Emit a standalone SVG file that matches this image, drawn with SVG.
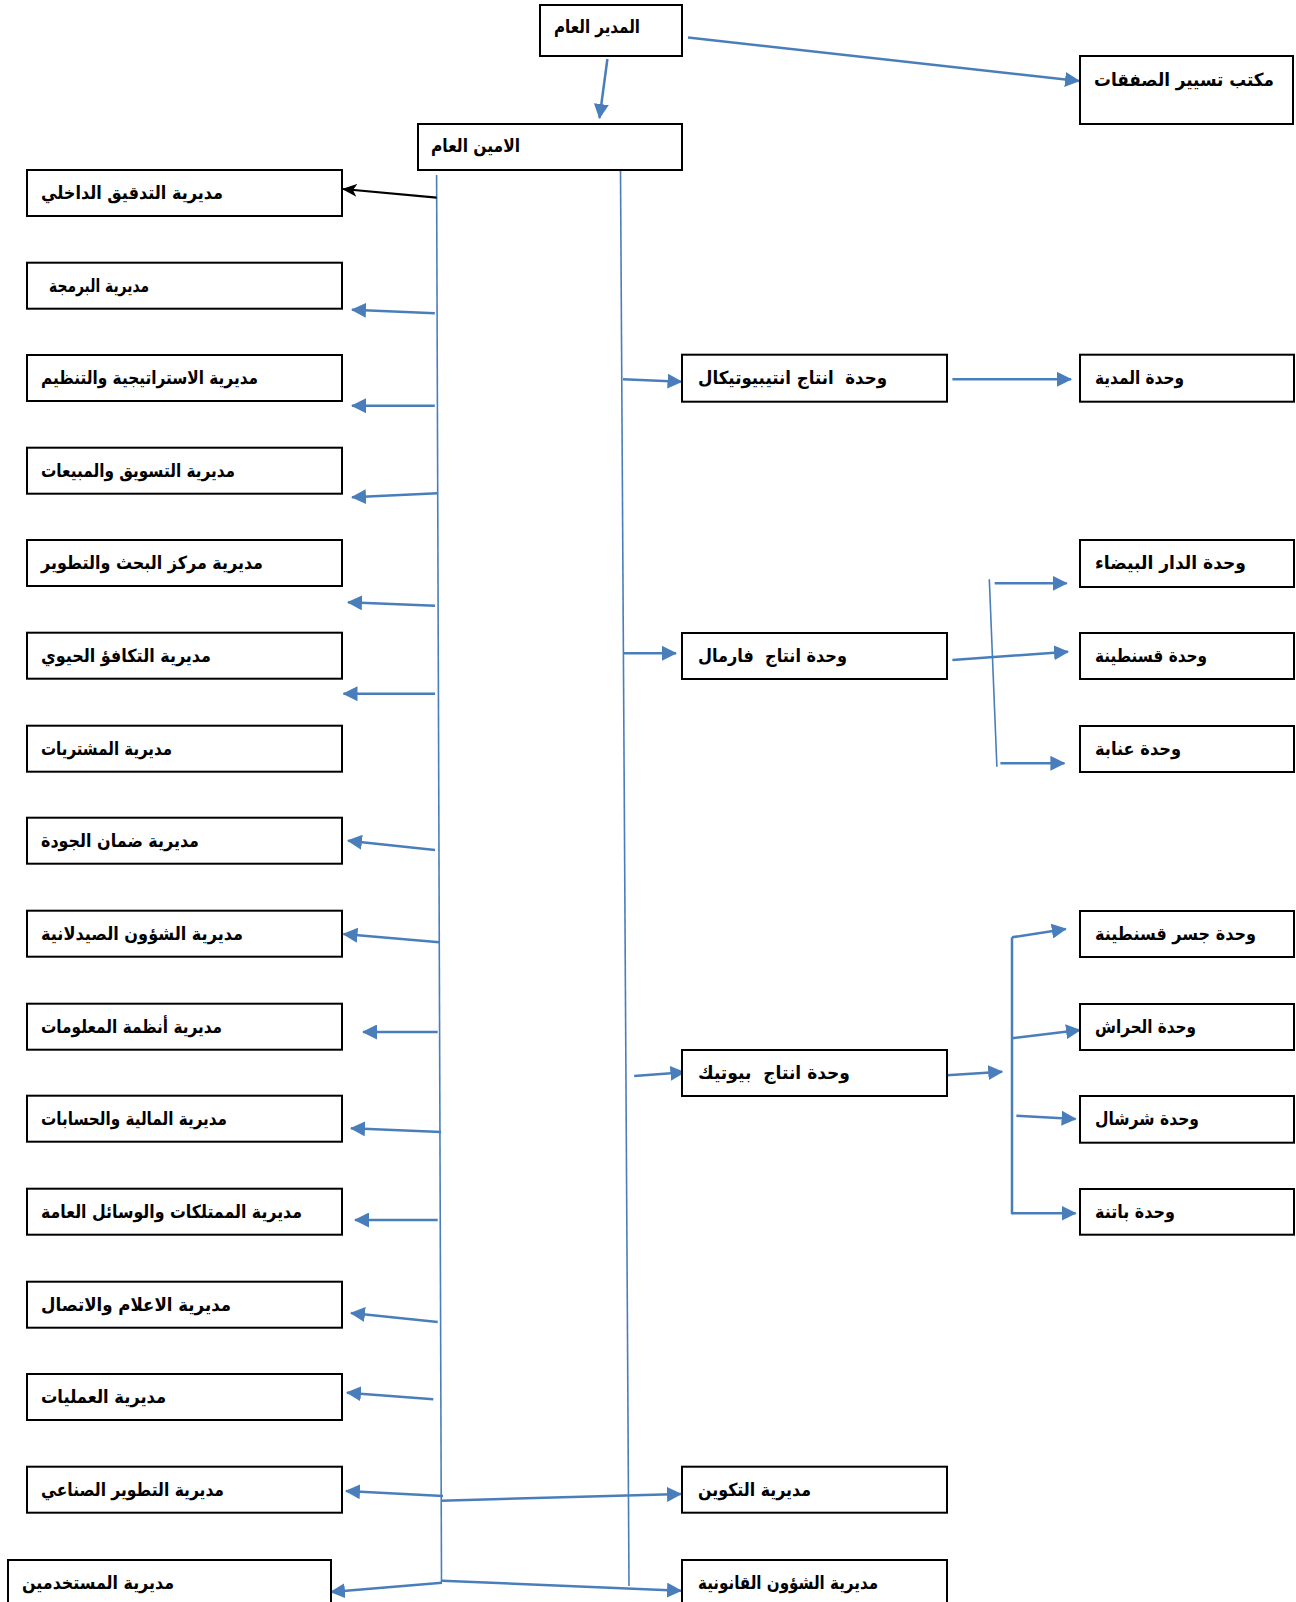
<svg xmlns="http://www.w3.org/2000/svg" width="1296" height="1602" viewBox="0 0 1296 1602">
<style>
.box{fill:#fff;stroke:#000;stroke-width:2}
.t{font-family:"DejaVu Sans",sans-serif;font-weight:bold;font-size:18px;fill:#000;white-space:pre}
.c{fill:none;stroke:#4A7EBB;stroke-width:2.5}
.trunk{fill:none;stroke:#4A7EBB;stroke-width:1.6}
.ca{fill:none;stroke:#4A7EBB;stroke-width:2.5;marker-end:url(#ab)}
.ck{fill:none;stroke:#000;stroke-width:2.2;marker-end:url(#ak)}
</style>
<defs>
<marker id="ab" viewBox="0 0 15 15" refX="14" refY="7.5" markerWidth="15" markerHeight="15" markerUnits="userSpaceOnUse" orient="auto"><path d="M0,0 L15,7.5 L0,15 z" fill="#4A7EBB"/></marker>
<marker id="ak" viewBox="0 0 15 13" refX="14" refY="6.5" markerWidth="15" markerHeight="13" markerUnits="userSpaceOnUse" orient="auto"><path d="M0,0 L15,6.5 L0,13 L4,6.5 z" fill="#000"/></marker>
</defs>
<rect width="1296" height="1602" fill="#fff"/>

<g id="connectors">
<line class="ca" x1="688" y1="37.5" x2="1079" y2="81"/>
<line class="ca" x1="607.4" y1="59" x2="599.5" y2="118"/>
<line class="trunk" x1="436.6" y1="175" x2="441.5" y2="1582"/>
<line class="trunk" x1="620.5" y1="170" x2="629" y2="1586"/>
<line class="ck" x1="436.6" y1="197.7" x2="343" y2="189"/>
<line class="ca" x1="434.8" y1="313.3" x2="352" y2="309.7"/>
<line class="ca" x1="434.8" y1="405.7" x2="352" y2="405.7"/>
<line class="ca" x1="437.5" y1="493.3" x2="352" y2="497.3"/>
<line class="ca" x1="435" y1="605.7" x2="348" y2="602.3"/>
<line class="ca" x1="435" y1="693.7" x2="343.5" y2="693.7"/>
<line class="ca" x1="435" y1="850" x2="348" y2="840.7"/>
<line class="ca" x1="439.3" y1="942.3" x2="343.5" y2="934"/>
<line class="ca" x1="437.7" y1="1032" x2="363" y2="1032"/>
<line class="ca" x1="441" y1="1132" x2="351" y2="1128.3"/>
<line class="ca" x1="437.7" y1="1220" x2="355" y2="1220"/>
<line class="ca" x1="437.7" y1="1322" x2="351" y2="1313"/>
<line class="ca" x1="433.3" y1="1399.3" x2="347" y2="1392.7"/>
<line class="ca" x1="443" y1="1496" x2="346" y2="1491"/>
<line class="ca" x1="441" y1="1500.7" x2="681" y2="1494"/>
<line class="ca" x1="442" y1="1582.7" x2="331" y2="1592"/>
<line class="ca" x1="442" y1="1580.7" x2="681" y2="1590.7"/>
<line class="ca" x1="623" y1="379.3" x2="681.5" y2="381.7"/>
<line class="ca" x1="952.4" y1="379.3" x2="1071" y2="379.3"/>
<line class="ca" x1="623" y1="653.3" x2="676" y2="653.3"/>
<line class="ca" x1="952.4" y1="660" x2="1068" y2="651.7"/>
<line class="trunk" x1="989.3" y1="579.3" x2="996.9" y2="766.7"/>
<line class="ca" x1="994.7" y1="583.3" x2="1066.7" y2="583.3"/>
<line class="ca" x1="1000.4" y1="763.3" x2="1064.4" y2="763.3"/>
<line class="ca" x1="634.2" y1="1076" x2="684.4" y2="1072.3"/>
<line class="ca" x1="947" y1="1075.3" x2="1002.2" y2="1071.7"/>
<line class="c" x1="1012" y1="937.3" x2="1012" y2="1214.3"/>
<line class="ca" x1="1012" y1="937.3" x2="1065.8" y2="929"/>
<line class="ca" x1="1012" y1="1038.3" x2="1080" y2="1030"/>
<line class="ca" x1="1016.4" y1="1115.7" x2="1075.6" y2="1119"/>
<line class="ca" x1="1012" y1="1213.3" x2="1075.6" y2="1213.3"/>
</g>

<g id="n-director"><rect class="box" x="540" y="5" width="142" height="51"/><text class="t" x="554" y="33" textLength="86" lengthAdjust="spacingAndGlyphs">المدير العام</text></g>
<g id="n-office"><rect class="box" x="1080" y="56" width="213" height="68"/><text class="t" x="1094" y="86" textLength="180" lengthAdjust="spacingAndGlyphs">مكتب تسيير الصفقات</text></g>
<g id="n-secretary"><rect class="box" x="418" y="124" width="264" height="46"/><text class="t" x="431" y="152" textLength="89" lengthAdjust="spacingAndGlyphs">الامين العام</text></g>

<g id="n-audit"><rect class="box" x="27" y="170" width="315" height="46"/><text class="t" x="41" y="199" textLength="182" lengthAdjust="spacingAndGlyphs">مديرية التدقيق الداخلي</text></g>
<g id="n-prog"><rect class="box" x="27" y="262.7" width="315" height="46"/><text class="t" x="49" y="291.7" textLength="100" lengthAdjust="spacingAndGlyphs">مديرية البرمجة</text></g>
<g id="n-strat"><rect class="box" x="27" y="355" width="315" height="46"/><text class="t" x="41" y="384" textLength="217" lengthAdjust="spacingAndGlyphs">مديرية الاستراتيجية والتنظيم</text></g>
<g id="n-market"><rect class="box" x="27" y="447.7" width="315" height="46"/><text class="t" x="41" y="476.7" textLength="194" lengthAdjust="spacingAndGlyphs">مديرية التسويق والمبيعات</text></g>
<g id="n-rnd"><rect class="box" x="27" y="540" width="315" height="46"/><text class="t" x="41" y="569" textLength="222" lengthAdjust="spacingAndGlyphs">مديرية مركز البحث والتطوير</text></g>
<g id="n-bio"><rect class="box" x="27" y="632.7" width="315" height="46"/><text class="t" x="41" y="661.7" textLength="170" lengthAdjust="spacingAndGlyphs">مديرية التكافؤ الحيوي</text></g>
<g id="n-purch"><rect class="box" x="27" y="725.7" width="315" height="46"/><text class="t" x="41" y="754.7" textLength="131" lengthAdjust="spacingAndGlyphs">مديرية المشتريات</text></g>
<g id="n-quality"><rect class="box" x="27" y="817.7" width="315" height="46"/><text class="t" x="41" y="846.7" textLength="158" lengthAdjust="spacingAndGlyphs">مديرية ضمان الجودة</text></g>
<g id="n-pharma"><rect class="box" x="27" y="910.7" width="315" height="46"/><text class="t" x="41" y="939.7" textLength="202" lengthAdjust="spacingAndGlyphs">مديرية الشؤون الصيدلانية</text></g>
<g id="n-is"><rect class="box" x="27" y="1003.7" width="315" height="46"/><text class="t" x="41" y="1032.7" textLength="181" lengthAdjust="spacingAndGlyphs">مديرية أنظمة المعلومات</text></g>
<g id="n-fin"><rect class="box" x="27" y="1095.7" width="315" height="46"/><text class="t" x="41" y="1124.7" textLength="186" lengthAdjust="spacingAndGlyphs">مديرية المالية والحسابات</text></g>
<g id="n-prop"><rect class="box" x="27" y="1188.7" width="315" height="46"/><text class="t" x="41" y="1217.7" textLength="261" lengthAdjust="spacingAndGlyphs">مديرية الممتلكات والوسائل العامة</text></g>
<g id="n-media"><rect class="box" x="27" y="1281.7" width="315" height="46"/><text class="t" x="41" y="1310.7" textLength="190" lengthAdjust="spacingAndGlyphs">مديرية الاعلام والاتصال</text></g>
<g id="n-ops"><rect class="box" x="27" y="1374" width="315" height="46"/><text class="t" x="41" y="1403" textLength="125" lengthAdjust="spacingAndGlyphs">مديرية العمليات</text></g>
<g id="n-indus"><rect class="box" x="27" y="1466.7" width="315" height="46"/><text class="t" x="41" y="1495.7" textLength="183" lengthAdjust="spacingAndGlyphs">مديرية التطوير الصناعي</text></g>
<g id="n-hr"><rect class="box" x="8" y="1560" width="323" height="50"/><text class="t" x="22" y="1589" textLength="152" lengthAdjust="spacingAndGlyphs">مديرية المستخدمين</text></g>

<g id="n-antibio"><rect class="box" x="682" y="354.7" width="265" height="47"/><text class="t" x="698" y="384" textLength="189" lengthAdjust="spacingAndGlyphs">وحدة  انتاج انتيبيوتيكال</text></g>
<g id="n-pharmal"><rect class="box" x="682" y="633" width="265" height="46"/><text class="t" x="698" y="662" textLength="149" lengthAdjust="spacingAndGlyphs">وحدة انتاج  فارمال</text></g>
<g id="n-biotic"><rect class="box" x="682" y="1050" width="265" height="46"/><text class="t" x="698" y="1079" textLength="152" lengthAdjust="spacingAndGlyphs">وحدة انتاج  بيوتيك</text></g>
<g id="n-training"><rect class="box" x="682" y="1466.7" width="265" height="46"/><text class="t" x="698" y="1495.7" textLength="113" lengthAdjust="spacingAndGlyphs">مديرية التكوين</text></g>
<g id="n-legal"><rect class="box" x="682" y="1560" width="265" height="50"/><text class="t" x="698" y="1589" textLength="180" lengthAdjust="spacingAndGlyphs">مديرية الشؤون القانونية</text></g>

<g id="n-medea"><rect class="box" x="1080" y="354.7" width="214" height="47"/><text class="t" x="1095" y="384" textLength="89" lengthAdjust="spacingAndGlyphs">وحدة المدية</text></g>
<g id="n-dar"><rect class="box" x="1080" y="540" width="214" height="47"/><text class="t" x="1095" y="569" textLength="151" lengthAdjust="spacingAndGlyphs">وحدة الدار البيضاء</text></g>
<g id="n-const"><rect class="box" x="1080" y="633" width="214" height="46"/><text class="t" x="1095" y="662" textLength="112" lengthAdjust="spacingAndGlyphs">وحدة قسنطينة</text></g>
<g id="n-annaba"><rect class="box" x="1080" y="726" width="214" height="46"/><text class="t" x="1095" y="755" textLength="86" lengthAdjust="spacingAndGlyphs">وحدة عنابة</text></g>
<g id="n-jisr"><rect class="box" x="1080" y="911" width="214" height="46"/><text class="t" x="1095" y="940" textLength="161" lengthAdjust="spacingAndGlyphs">وحدة جسر قسنطينة</text></g>
<g id="n-harrach"><rect class="box" x="1080" y="1004" width="214" height="46"/><text class="t" x="1095" y="1033" textLength="101" lengthAdjust="spacingAndGlyphs">وحدة الحراش</text></g>
<g id="n-cherchell"><rect class="box" x="1080" y="1096" width="214" height="46.7"/><text class="t" x="1095" y="1125" textLength="104" lengthAdjust="spacingAndGlyphs">وحدة شرشال</text></g>
<g id="n-batna"><rect class="box" x="1080" y="1189" width="214" height="45.7"/><text class="t" x="1095" y="1218" textLength="80" lengthAdjust="spacingAndGlyphs">وحدة باتنة</text></g>
</svg>
